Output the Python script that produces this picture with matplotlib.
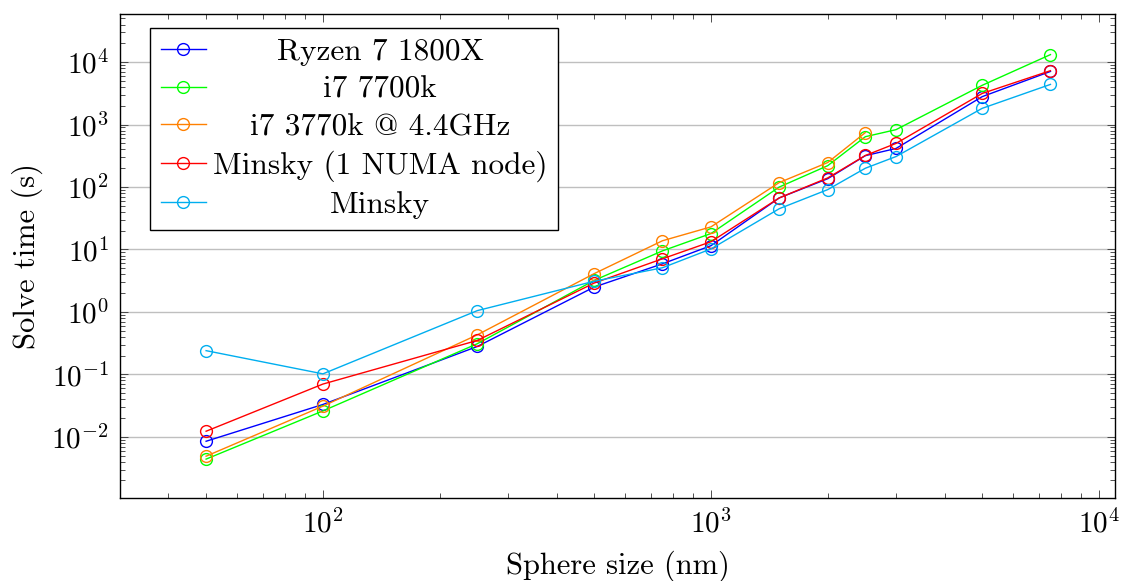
import matplotlib
matplotlib.use("Agg")
import matplotlib.pyplot as plt
from matplotlib.ticker import LogLocator, NullFormatter

plt.rcParams["font.family"] = "cmr10"
plt.rcParams["mathtext.fontset"] = "cm"
plt.rcParams["axes.formatter.use_mathtext"] = True

# Data
sizes = [50, 100, 250, 500, 750, 1000, 1500, 2000, 2500, 3000, 5000, 7500]
ryzen = [0.0085, 0.033, 0.28, 2.5, 5.9, 11.5, 67, 136, 318, 415, 2800, 7100]
i7_7700k = [0.0044, 0.026, 0.31, 3.2, 9.5, 18, 100, 220, 640, 830, 4250, 13200]
sizes_3770k = [50, 100, 250, 500, 750, 1000, 1500, 2000, 2500]
i7_3770k = [0.0049, 0.031, 0.43, 4.1, 13.8, 23, 118, 247, 745]
minsky_numa = [0.0123, 0.07, 0.35, 2.9, 7.1, 13.3, 67, 140, 320, 500, 3150, 7300]
minsky = [0.24, 0.102, 1.05, 3.1, 5.1, 10.2, 45, 91, 200, 308, 1820, 4400]

labels = ["Ryzen 7 1800X", "i7 7700k", "i7 3770k @ 4.4GHz",
          "Minsky (1 NUMA node)", "Minsky"]
colors = ["#0000ff", "#00ff00", "#ff8000", "#ff0000", "#00aeef"]

fig = plt.figure(figsize=(11.29, 5.81), dpi=100)
ax = fig.add_axes([0.1063, 0.1429, 0.8813, 0.833])

series = [(sizes, ryzen), (sizes, i7_7700k), (sizes_3770k, i7_3770k),
          (sizes, minsky_numa), (sizes, minsky)]
for (xs, ys), lab, c in zip(series, labels, colors):
    ax.plot(xs, ys, color=c, lw=1.0, marker="o", ms=8.5, mfc="none",
            mec=c, mew=1.0, label=lab)

ax.set_xscale("log")
ax.set_yscale("log")
ax.set_xlim(30, 11000)
ax.set_ylim(1.05e-3, 5.9e4)

ax.yaxis.set_major_locator(LogLocator(base=10, numticks=20))
ax.yaxis.set_minor_locator(LogLocator(base=10, subs=range(2, 10), numticks=20))
ax.yaxis.set_minor_formatter(NullFormatter())
ax.xaxis.set_minor_formatter(NullFormatter())

ax.grid(True, which="major", axis="y", color="#bfbfbf", lw=1.0)
ax.set_axisbelow(True)
ax.tick_params(which="both", direction="in", top=True, right=True,
               labelsize=21, width=0.6, color="#333333")
ax.tick_params(which="major", length=6, pad=8)
ax.tick_params(which="minor", length=3.5)
for s in ax.spines.values():
    s.set_linewidth(1.0)

ax.set_xlabel("Sphere size (nm)", fontsize=22, labelpad=9)
ax.set_ylabel("Solve time (s)", fontsize=22, labelpad=6)

leg = ax.legend(loc="upper left", bbox_to_anchor=(0.030, 0.972), fontsize=22.5,
                fancybox=False, framealpha=1, edgecolor="black",
                handlelength=1.45, labelspacing=0.3, borderpad=0.35,
                handletextpad=0.22, borderaxespad=0)
leg.get_frame().set_linewidth(1.0)

# centre the legend labels like the original
fig.canvas.draw()
renderer = fig.canvas.get_renderer()
widths = [t.get_window_extent(renderer).width for t in leg.get_texts()]
maxw = max(widths)
for t, w in zip(leg.get_texts(), widths):
    t.set_position(((maxw - w) / 2, 0))

fig.savefig("out.png", dpi=100)
